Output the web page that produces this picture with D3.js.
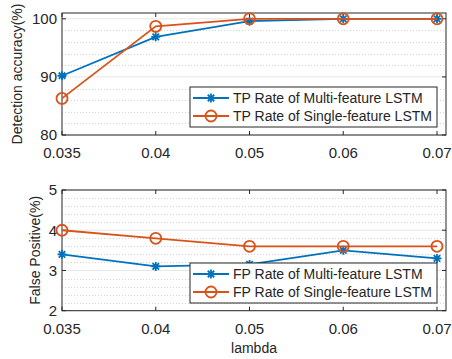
<!DOCTYPE html>
<html>
<head>
<meta charset="utf-8">
<script src="https://cdn.jsdelivr.net/npm/d3@7"></script>
<style>
  body { margin: 0; background: #fff; }
  text { font-family: "Liberation Sans", Arial, sans-serif; fill: #262626; }
</style>
</head>
<body>
<div id="chart"></div>
<script>
// --- Data ---
const lambdas = ["0.035", "0.04", "0.05", "0.06", "0.07"];
const tpMulti = [90.2, 96.9, 99.6, 100, 100];
const tpSingle = [86.3, 98.7, 100, 100, 100];
const fpMulti = [3.4, 3.1, 3.15, 3.5, 3.3];
const fpSingle = [4.0, 3.8, 3.6, 3.6, 3.6];

const topTicks = [80, 90, 100];
const botTicks = [2, 3, 4, 5];

const blue = "#0072BD";
const orange = "#D95319";

const width = 452, height = 359;
const left = 62, right = 446, lastX = 437;

const svg = d3.select("#chart").append("svg")
    .attr("width", width)
    .attr("height", height);

const x = d3.scalePoint()
    .domain(lambdas)
    .range([left, lastX]);

function drawPanel(opts) {
    const y = d3.scaleLinear().domain(opts.domain).range([opts.bottom, opts.top]);
    const g = svg.append("g");

    // minor dotted grid
    const minor = d3.range(opts.domain[0], opts.domain[1] + 1e-9, opts.minorStep)
        .filter(v => !opts.ticks.some(t => Math.abs(t - v) < 1e-6));
    g.append("g").selectAll("line")
        .data(minor)
        .join("line")
        .attr("x1", left).attr("x2", right)
        .attr("y1", d => Math.round(y(d)) + 0.5).attr("y2", d => Math.round(y(d)) + 0.5)
        .attr("stroke", "#d4d4d4")
        .attr("stroke-width", 1)
        .attr("stroke-dasharray", "1,2");

    // major grid
    g.append("g").selectAll("line")
        .data(opts.ticks)
        .join("line")
        .attr("x1", left).attr("x2", right)
        .attr("y1", d => y(d)).attr("y2", d => y(d))
        .attr("stroke", "#e6e6e6")
        .attr("stroke-width", 1);

    // box
    g.append("rect")
        .attr("x", left).attr("y", opts.top)
        .attr("width", right - left).attr("height", opts.bottom - opts.top)
        .attr("fill", "none")
        .attr("stroke", "#262626")
        .attr("stroke-width", 1);

    // ticks (inward, both sides)
    const tl = 4;
    g.append("g").selectAll("path")
        .data(lambdas)
        .join("path")
        .attr("d", d => `M${x(d)},${opts.bottom}v${-tl}M${x(d)},${opts.top}v${tl}`)
        .attr("stroke", "#262626");
    g.append("g").selectAll("path")
        .data(opts.ticks)
        .join("path")
        .attr("d", d => `M${left},${y(d)}h${tl}M${right},${y(d)}h${-tl}`)
        .attr("stroke", "#262626");

    // tick labels
    g.append("g").selectAll("text")
        .data(lambdas)
        .join("text")
        .attr("x", d => x(d))
        .attr("y", opts.bottom + 23)
        .attr("text-anchor", "middle")
        .attr("font-size", 15)
        .text(d => d);
    g.append("g").selectAll("text")
        .data(opts.ticks)
        .join("text")
        .attr("x", left - 5)
        .attr("y", d => y(d))
        .attr("dy", "0.36em")
        .attr("text-anchor", "end")
        .attr("font-size", 15)
        .text(d => d);

    // y label
    g.append("text")
        .attr("transform", `translate(${opts.labelX},${(opts.top + opts.bottom) / 2}) rotate(-90)`)
        .attr("text-anchor", "middle")
        .attr("font-size", 14)
        .text(opts.ylabel);

    // series
    const line = d3.line().x((d, i) => x(lambdas[i])).y(d => y(d));
    opts.series.forEach(s => {
        g.append("path")
            .datum(s.values)
            .attr("fill", "none")
            .attr("stroke", s.color)
            .attr("stroke-width", 1.8)
            .attr("d", line);
        const m = g.append("g").selectAll("g")
            .data(s.values)
            .join("g")
            .attr("transform", (d, i) => `translate(${x(lambdas[i])},${y(d)})`);
        drawMarker(m, s.marker, s.color);
    });

    // legend
    const lg = g.append("g");
    lg.append("rect")
        .attr("x", 190).attr("y", opts.legendTop)
        .attr("width", 247).attr("height", 40)
        .attr("fill", "#fff")
        .attr("stroke", "#262626")
        .attr("stroke-width", 1);
    opts.series.forEach((s, i) => {
        const cy = opts.legendTop + 11 + i * 18;
        lg.append("line")
            .attr("x1", 193).attr("x2", 229)
            .attr("y1", cy).attr("y2", cy)
            .attr("stroke", s.color)
            .attr("stroke-width", 1.8);
        const mk = lg.append("g").attr("transform", `translate(211,${cy})`);
        drawMarker(mk, s.marker, s.color);
        lg.append("text")
            .attr("x", 233).attr("y", cy)
            .attr("dy", "0.36em")
            .attr("font-size", 14)
            .attr("fill", "#000")
            .text(s.name);
    });
}

function drawMarker(sel, type, color) {
    if (type === "circle") {
        sel.append("circle")
            .attr("r", 5.5)
            .attr("fill", "none")
            .attr("stroke", color)
            .attr("stroke-width", 1.8);
    } else {
        const r = 4.5, q = r * 0.72;
        sel.append("path")
            .attr("d", `M${-r},0H${r}M0,${-r}V${r}M${-q},${-q}L${q},${q}M${-q},${q}L${q},${-q}`)
            .attr("stroke", color)
            .attr("stroke-width", 1.8)
            .attr("fill", "none");
    }
}

drawPanel({
    domain: [80, 101], top: 13, bottom: 135,
    ticks: topTicks, minorStep: 2,
    ylabel: "Detection accuracy(%)", labelX: 22,
    legendTop: 87,
    series: [
        { name: "TP Rate of Multi-feature LSTM", values: tpMulti, color: blue, marker: "star" },
        { name: "TP Rate of Single-feature LSTM", values: tpSingle, color: orange, marker: "circle" }
    ]
});

drawPanel({
    domain: [2, 5], top: 190, bottom: 310.7,
    ticks: botTicks, minorStep: 0.2,
    ylabel: "False Positive(%)", labelX: 40,
    legendTop: 263,
    series: [
        { name: "FP Rate of Multi-feature LSTM", values: fpMulti, color: blue, marker: "star" },
        { name: "FP Rate of Single-feature LSTM", values: fpSingle, color: orange, marker: "circle" }
    ]
});

svg.append("text")
    .attr("x", (left + right) / 2)
    .attr("y", 353)
    .attr("text-anchor", "middle")
    .attr("font-size", 14)
    .text("lambda");
</script>
</body>
</html>
